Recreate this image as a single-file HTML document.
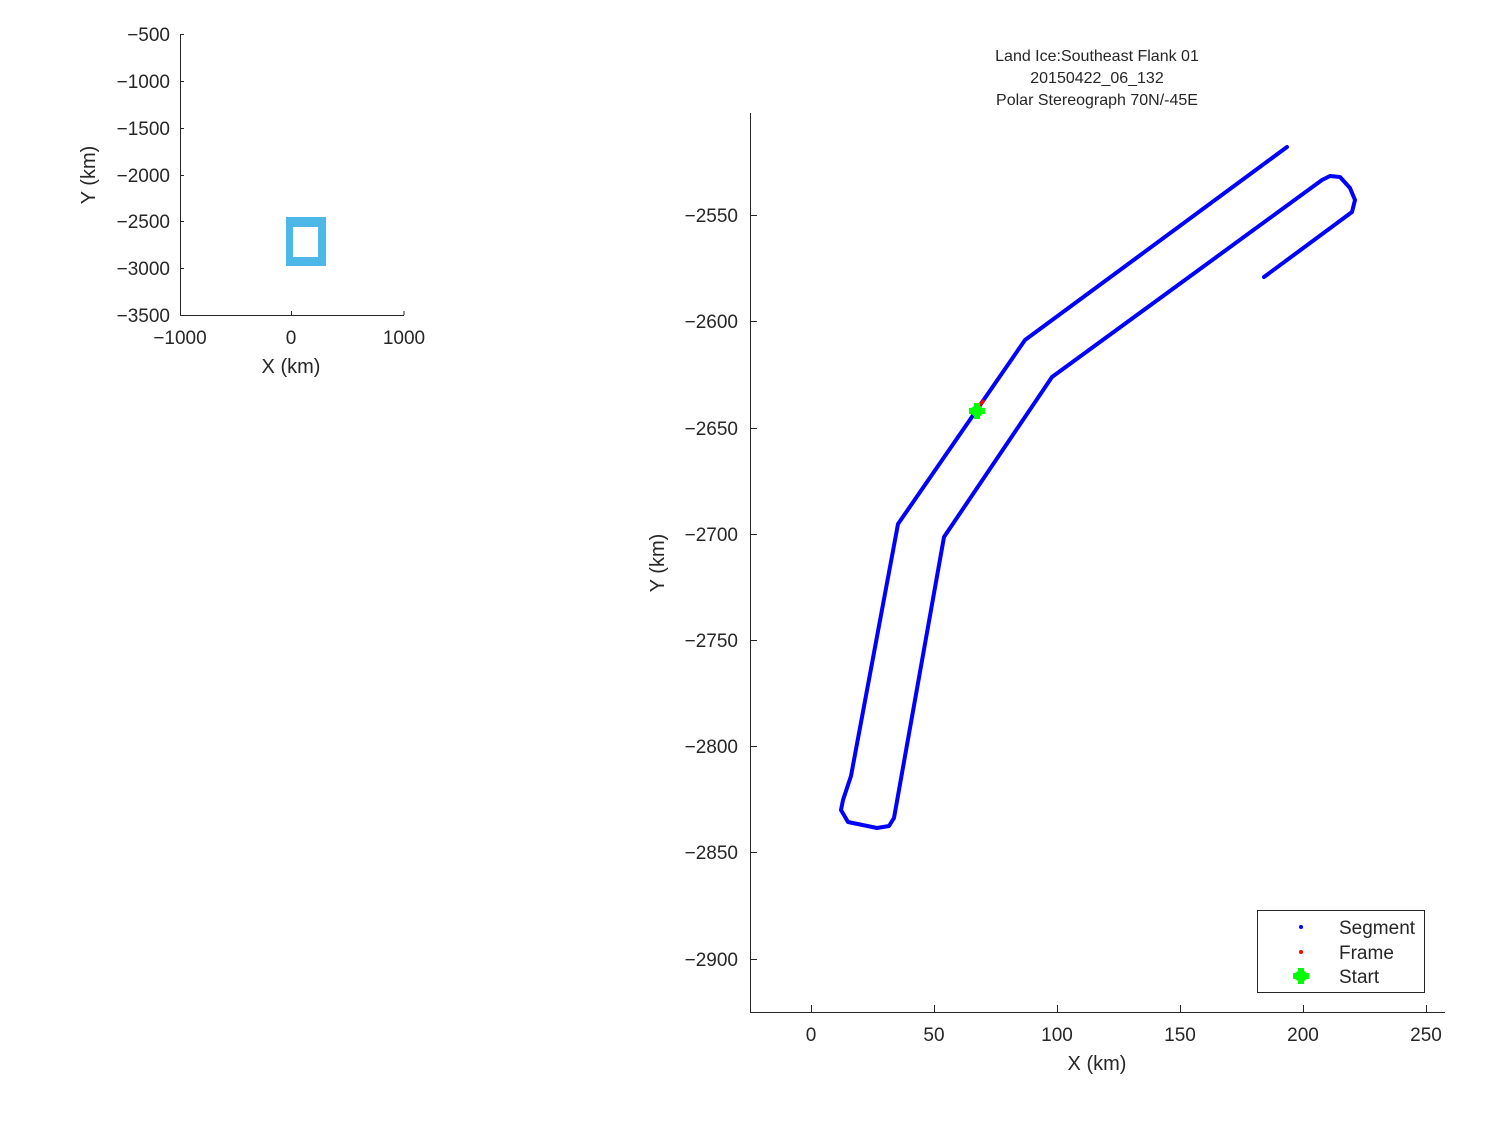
<!DOCTYPE html>
<html><head><meta charset="utf-8"><style>body{margin:0;background:#fff}svg text{font-family:"Liberation Sans","DejaVu Sans",sans-serif;fill:#262626}</style></head><body>
<svg width="1500" height="1125" xmlns="http://www.w3.org/2000/svg">
<rect width="1500" height="1125" fill="#fff"/>
<!-- inset -->
<g stroke="#262626" stroke-width="1" fill="none">
<path d="M180.5,34 V315.5 H404"/>
<path d="M180,34.5h4M180,81.5h4M180,128.5h4M180,175.5h4M180,221.5h4M180,268.5h4M291.5,315v-4M404,315v-4"/>
</g>
<g font-size="19" text-anchor="end">
<text x="170" y="41">−500</text><text x="170" y="88">−1000</text><text x="170" y="135">−1500</text><text x="170" y="182">−2000</text><text x="170" y="228">−2500</text><text x="170" y="275">−3000</text><text x="170" y="322">−3500</text>
</g>
<g font-size="19" text-anchor="middle">
<text x="180" y="344">−1000</text><text x="291" y="344">0</text><text x="404" y="344">1000</text>
<text x="291" y="373" font-size="20">X (km)</text>
<text transform="translate(95,175) rotate(-90)" font-size="20">Y (km)</text>
</g>
<path d="M286,217H326V266H286Z M293,227V257H318V227Z" fill="#4db8e8" fill-rule="evenodd"/>
<!-- main axes -->
<g stroke="#262626" stroke-width="1" fill="none">
<path d="M750.5,113 V1012.5 H1445"/>
<path d="M750,215.5h7M750,321.5h7M750,428.5h7M750,534.5h7M750,640.5h7M750,746.5h7M750,852.5h7M750,959.5h7"/>
<path d="M811.5,1012v-7M934.5,1012v-7M1057.5,1012v-7M1180.5,1012v-7M1303.5,1012v-7M1426.5,1012v-7"/>
</g>
<g font-size="19" text-anchor="end">
<text x="738" y="222">−2550</text><text x="738" y="328">−2600</text><text x="738" y="435">−2650</text><text x="738" y="541">−2700</text><text x="738" y="647">−2750</text><text x="738" y="753">−2800</text><text x="738" y="859">−2850</text><text x="738" y="966">−2900</text>
</g>
<g font-size="19" text-anchor="middle">
<text x="811" y="1041">0</text><text x="934" y="1041">50</text><text x="1057" y="1041">100</text><text x="1180" y="1041">150</text><text x="1303" y="1041">200</text><text x="1426" y="1041">250</text>
<text x="1097" y="1070" font-size="20">X (km)</text>
<text transform="translate(664,563) rotate(-90)" font-size="20">Y (km)</text>
<text x="1097" y="61" font-size="16">Land Ice:Southeast Flank 01</text>
<text x="1097" y="83" font-size="16">20150422_06_132</text>
<text x="1097" y="105" font-size="16">Polar Stereograph 70N/-45E</text>
</g>
<polyline points="1287,147 1025,340 898,524 851,776 843,800 841,810 848,822 877,828 889,826 894,818 944,537 1052,377 1322,180 1330,176 1340,177 1350,188 1355,200 1352,212 1264,277" fill="none" stroke="#0000ff" stroke-width="4" stroke-linejoin="round" stroke-linecap="round"/>
<line x1="978" y1="407" x2="984" y2="400" stroke="#ff0000" stroke-width="3"/>
<g fill="#00ff00"><circle cx="977" cy="411" r="6"/><rect x="969" y="408" width="16" height="6"/><rect x="974" y="403" width="6" height="16"/></g>
<!-- legend -->
<rect x="1257.5" y="910.5" width="167" height="82" fill="#fff" stroke="#262626"/>
<circle cx="1301" cy="927" r="2" fill="#0000ff"/>
<circle cx="1301" cy="952" r="2" fill="#ff0000"/>
<g fill="#00ff00"><circle cx="1301" cy="976" r="6"/><rect x="1293" y="973" width="16" height="6"/><rect x="1298" y="968" width="6" height="16"/></g>
<g font-size="19"><text x="1339" y="934">Segment</text><text x="1339" y="959">Frame</text><text x="1339" y="983">Start</text></g>
</svg>
</body></html>
